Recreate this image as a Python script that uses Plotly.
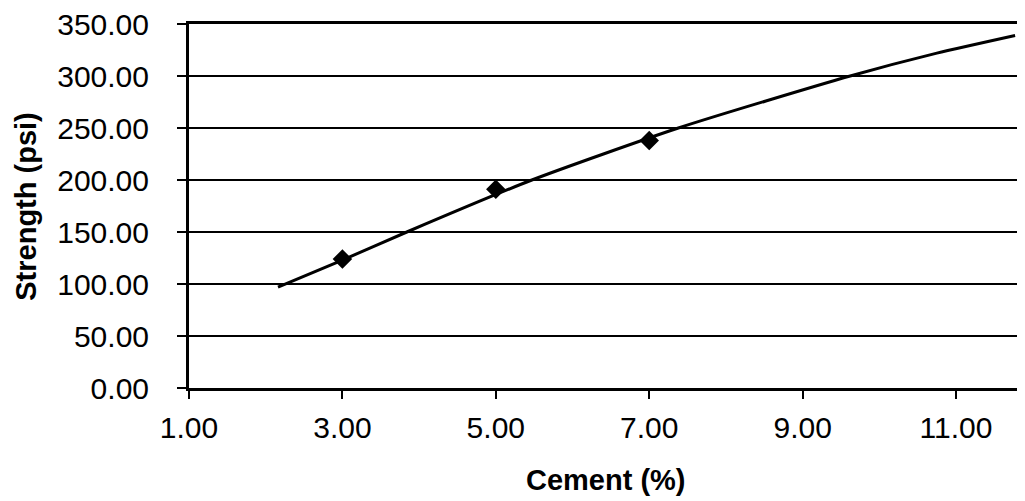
import plotly.graph_objects as go

# Measured data points (cement %, strength psi)
cement = [3, 5, 7]
strength = [124, 191, 238]

# Trendline
trend_x = [2.16, 3.0, 3.84, 5.47, 7.38, 9.62, 10.75, 11.77]
trend_y = [97, 123, 150, 200, 250, 300, 322, 339]

x_ticks = [1, 3, 5, 7, 9, 11]
x_tick_labels = ["1.00", "3.00", "5.00", "7.00", "9.00", "11.00"]
y_ticks = [0, 50, 100, 150, 200, 250, 300, 350]
y_tick_labels = ["0.00", "50.00", "100.00", "150.00", "200.00", "250.00", "300.00", "350.00"]

FONT = "Liberation Sans, Arial, sans-serif"

fig = go.Figure()
fig.add_trace(go.Scatter(
    x=trend_x, y=trend_y, mode="lines",
    line=dict(color="black", width=3, shape="spline", smoothing=0.6),
    showlegend=False, hoverinfo="skip",
))
fig.add_trace(go.Scatter(
    x=cement, y=strength, mode="markers",
    marker=dict(symbol="diamond", size=15, color="black"),
    showlegend=False,
))

# The page body has an 8px default margin, so the figure is sized to fit the window.
fig.update_layout(
    width=1017, height=493,
    margin=dict(l=181, r=3, t=16, b=113, autoexpand=False),
    paper_bgcolor="white", plot_bgcolor="white",
    font=dict(family=FONT, color="black"),
    xaxis=dict(
        range=[1, 11.86], automargin=False,
        tickvals=x_ticks, ticktext=x_tick_labels,
        tickfont=dict(size=30, family=FONT, color="black"),
        ticks="outside", ticklen=8, tickwidth=2, tickcolor="black",
        showline=True, linecolor="black", linewidth=3, mirror=True,
        showgrid=False, zeroline=False,
        ticklabelstandoff=3, ticklabeloverflow="allow",
    ),
    yaxis=dict(
        range=[0, 350], automargin=False,
        tickvals=y_ticks, ticktext=y_tick_labels,
        tickfont=dict(size=30, family=FONT, color="black"),
        ticks="outside", ticklen=9, tickwidth=2, tickcolor="black",
        showline=True, linecolor="black", linewidth=3,
        showgrid=True, gridcolor="black", gridwidth=2,
        zeroline=False,
        ticklabelstandoff=22, ticklabeloverflow="allow",
    ),
    annotations=[
        dict(text="<b>Cement (%)</b>", xref="paper", yref="paper",
             x=0.5, y=-0.254, xanchor="center", yanchor="middle", showarrow=False,
             font=dict(size=29, family=FONT, color="black")),
        dict(text="<b>Strength (psi)</b>", xref="paper", yref="paper",
             x=-0.196, y=0.5, xanchor="center", yanchor="middle", showarrow=False,
             textangle=-90, font=dict(size=29, family=FONT, color="black")),
    ],
)

fig.write_html("out.html")
